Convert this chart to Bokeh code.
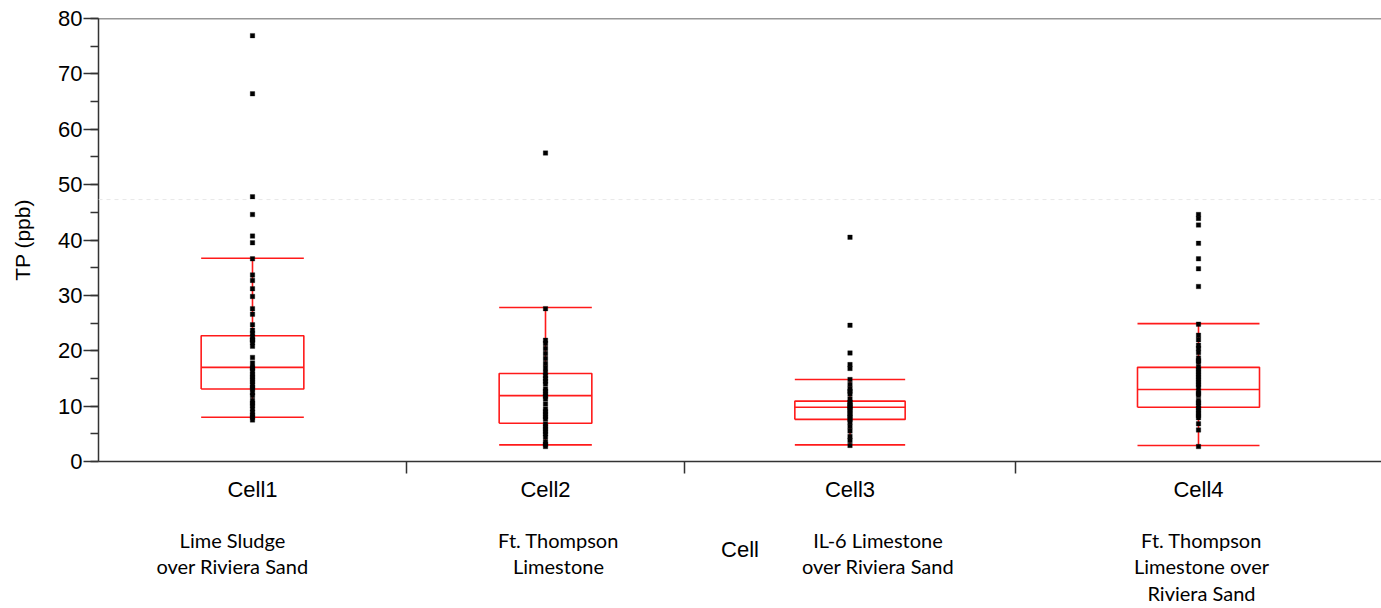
import numpy as np
from bokeh.plotting import figure
from bokeh.models import Range1d, FixedTicker, SingleIntervalTicker, Span, ColumnDataSource
from bokeh.core.properties import value
from bokeh.embed import file_html
from bokeh.resources import INLINE

# ---------------- data ----------------
cells = ["Cell1", "Cell2", "Cell3", "Cell4"]
descriptions = [
    "Lime Sludge\nover Riviera Sand",
    "Ft. Thompson\nLimestone",
    "IL-6 Limestone\nover Riviera Sand",
    "Ft. Thompson\nLimestone over\nRiviera Sand",
]
# relative width of each cell's slot on the x axis (proportional layout)
slot_width = [308, 278, 331, 366]

q1 = [13.1, 6.9, 7.6, 9.8]
median = [17.0, 11.9, 9.8, 13.0]
q3 = [22.7, 15.9, 10.9, 17.0]
whisker_lo = [8.0, 3.0, 3.0, 2.9]
whisker_hi = [36.7, 27.8, 14.8, 24.9]

cell1_tp = [76.9, 66.4, 47.8, 44.6, 40.7, 39.5, 36.6, 33.7, 32.7, 31.2, 29.8, 27.6, 26.6,
            24.7, 23.7, 23.1, 22.5, 22.0, 21.9, 21.5, 20.8, 18.8, 17.8, 17.0, 16.8, 16.3,
            15.7, 15.3, 14.8, 14.4, 13.9, 13.4, 13.1, 12.4, 11.9, 11.0, 10.5, 10.1, 9.5,
            8.9, 8.4, 8.0, 7.5]
cell2_tp = [55.7, 27.6, 21.9, 21.3, 20.4, 19.5, 18.6, 17.7, 16.9, 16.1, 15.5, 15.0, 14.5,
            14.0, 13.1, 12.7, 12.2, 11.8, 11.3, 10.4, 9.5, 9.0, 8.6, 8.1, 7.7, 6.8, 6.3,
            5.9, 5.4, 5.0, 4.4, 3.5, 3.1, 2.7]
cell3_tp = [40.5, 24.6, 19.6, 17.5, 16.8, 14.8, 13.9, 13.1, 12.7, 12.2, 11.3, 10.7, 10.4,
            10.1, 9.8, 9.5, 9.2, 8.7, 8.4, 8.0, 7.6, 7.1, 6.3, 5.5, 4.5, 3.8, 2.9]
cell4_tp = [44.6, 43.9, 42.7, 39.4, 36.6, 34.8, 31.6, 24.8, 22.8, 22.0, 21.0, 20.4, 19.7,
            18.7, 18.2, 17.9, 17.0, 16.6, 16.1, 15.7, 15.2, 14.8, 14.3, 13.9, 13.4, 12.7,
            12.3, 11.9, 11.0, 10.6, 10.1, 9.6, 9.2, 8.7, 8.3, 7.9, 6.8, 5.7, 2.7]
cell_points = [cell1_tp, cell2_tp, cell3_tp, cell4_tp]

y_ticks_interval = 10
y_max = 80

# ---------------- layout / style ----------------
RED = "#ff1a1a"
AXIS = "#333333"
ARIAL = "Liberation Sans"
desc_dx = [-20, 13, 28, 3]          # small horizontal nudges of description text (px)

edges = np.concatenate([[0], np.cumsum(slot_width)])
centers = (edges[:-1] + edges[1:]) / 2
box_w = np.array(slot_width) / 3.0
lefts = centers - box_w / 2
rights = centers + box_w / 2

p = figure(width=1381, height=608, output_backend="svg", toolbar_location=None,
           x_range=Range1d(0, float(edges[-1])), y_range=Range1d(0, y_max),
           min_border_left=98, min_border_right=0, min_border_top=18, min_border_bottom=147)
p.outline_line_color = None
p.xgrid.visible = False
p.ygrid.visible = False
p.background_fill_color = "white"
p.border_fill_color = "white"

# faint dashed reference line artifact
p.add_layout(Span(location=47.3, dimension="width", line_color="#e8e8e8",
                  line_dash="4 4", line_width=1))
# top frame line
p.add_layout(Span(location=y_max, dimension="width", line_color=AXIS, line_width=1.5))

# box-plot outlines: one red path per element (box, median, stem, caps)
xs, ys = [], []
for i in range(len(cells)):
    L, R, C = float(lefts[i]), float(rights[i]), float(centers[i])
    xs.append([C, C]); ys.append([whisker_lo[i], q1[i]])
    xs.append([C, C]); ys.append([q3[i], whisker_hi[i]])
    xs.append([L, R]); ys.append([whisker_lo[i], whisker_lo[i]])
    xs.append([L, R]); ys.append([whisker_hi[i], whisker_hi[i]])
    xs.append([L, R, R, L, L]); ys.append([q1[i], q1[i], q3[i], q3[i], q1[i]])
    xs.append([L, R]); ys.append([median[i], median[i]])
line_src = ColumnDataSource(dict(xs=xs, ys=ys))
p.multi_line(xs="xs", ys="ys", line_color=RED, line_width=1.6, source=line_src)

# points on top
px, py = [], []
for c, vals in zip(centers, cell_points):
    px.extend([c] * len(vals))
    py.extend(vals)
p.scatter(px, py, marker="square", size=4.5, fill_color="black", line_color="black", line_width=0.3)

# ---- y axis ----
ya = p.yaxis[0]
ya.ticker = SingleIntervalTicker(interval=y_ticks_interval, num_minor_ticks=2)
ya.axis_label = "TP (ppb)"
ya.axis_label_text_font = ARIAL
ya.axis_label_text_font_style = "normal"
ya.axis_label_text_font_size = "21px"
ya.axis_label_text_color = "black"
ya.axis_label_standoff = 21
ya.major_label_text_font = ARIAL
ya.major_label_text_font_size = "22px"
ya.major_label_text_color = "black"
ya.major_label_standoff = 1
ya.major_tick_out = 15
ya.major_tick_in = 0
ya.minor_tick_out = 8
ya.minor_tick_in = 0
ya.axis_line_color = AXIS
ya.axis_line_width = 1.5
ya.major_tick_line_color = AXIS
ya.major_tick_line_width = 1.5
ya.minor_tick_line_color = AXIS
ya.minor_tick_line_width = 1.5

# ---- x axis ----
xa = p.xaxis[0]
xa.ticker = FixedTicker(ticks=[float(c) for c in centers],
                        minor_ticks=[float(e) for e in edges[1:-1]])
xa.major_label_overrides = {float(c): name for c, name in zip(centers, cells)}
xa.major_tick_line_color = None
xa.major_tick_out = 0
xa.major_tick_in = 0
xa.minor_tick_out = 12
xa.minor_tick_in = 0
xa.minor_tick_line_color = AXIS
xa.minor_tick_line_width = 1.5
xa.axis_line_color = AXIS
xa.axis_line_width = 1.5
xa.major_label_text_font = ARIAL
xa.major_label_text_font_size = "22px"
xa.major_label_text_color = "black"
xa.major_label_standoff = 3
xa.axis_label = "Cell"
xa.axis_label_text_font = ARIAL
xa.axis_label_text_font_style = "normal"
xa.axis_label_text_font_size = "22px"
xa.axis_label_text_color = "black"
xa.axis_label_standoff = 32

# ---- descriptions under categories ----
desc_src = ColumnDataSource(dict(x=centers, y=[0] * len(cells), text=descriptions, dx=desc_dx))
p.text(x="x", y="y", text="text", x_offset="dx", y_offset=66, source=desc_src,
       text_align="center", text_baseline="top", text_font=value("Lato"),
       text_font_size="20px", text_line_height=1.12, text_color="black", level="overlay")

open("out.html", "w").write(file_html(p, INLINE))
